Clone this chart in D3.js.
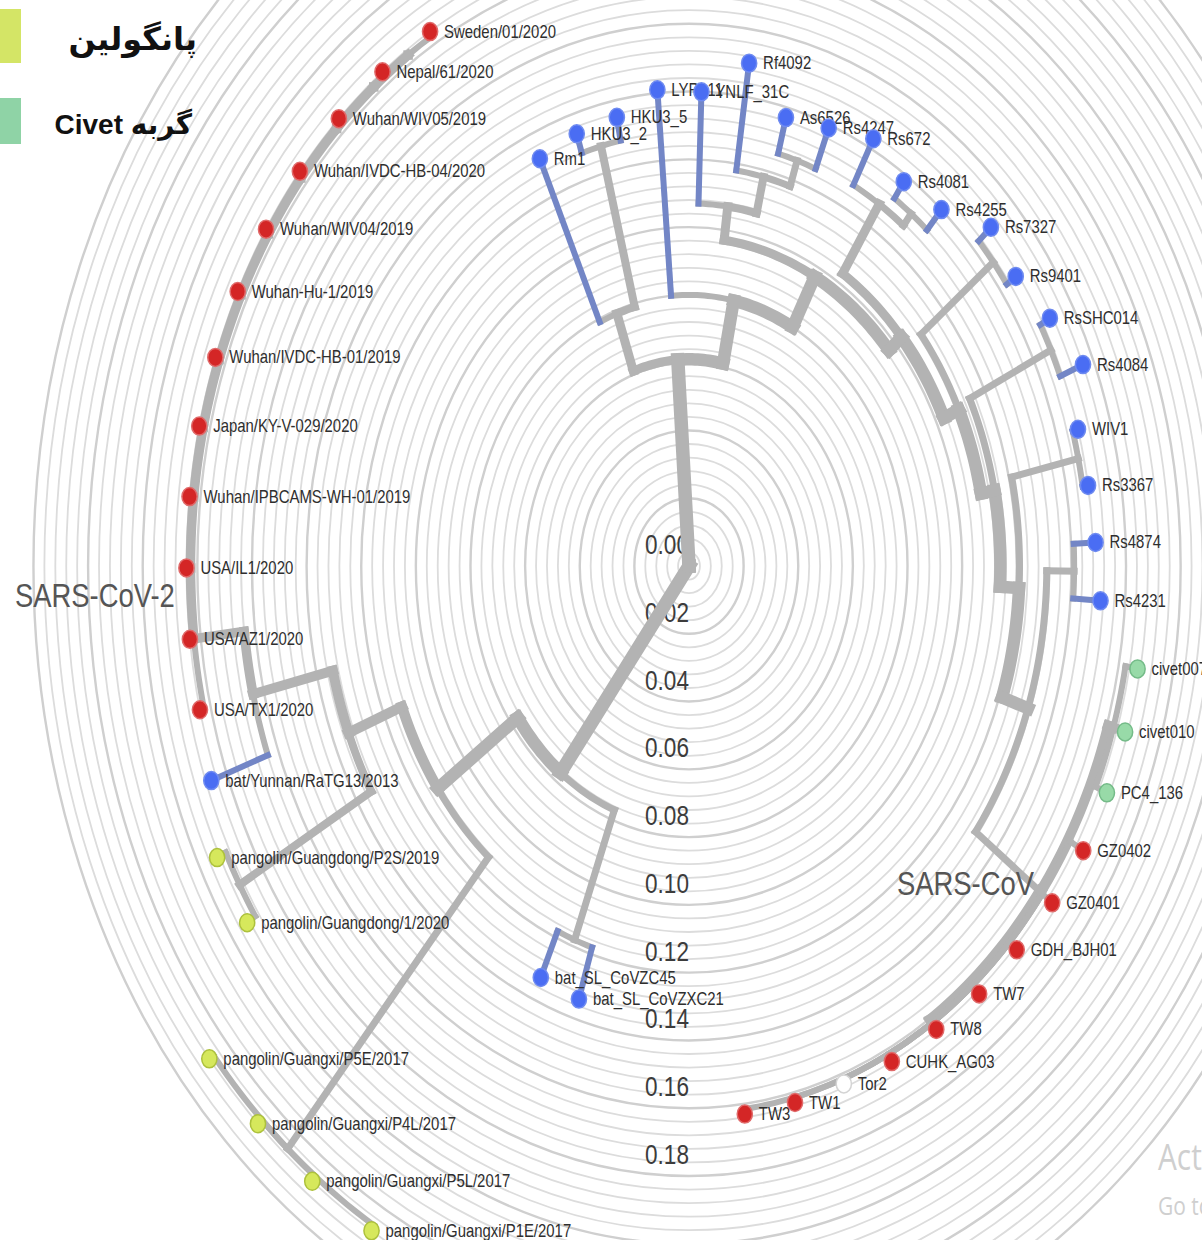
<!DOCTYPE html>
<html>
<head>
<meta charset="utf-8">
<script src="https://cdn.jsdelivr.net/npm/d3@7"></script>
<style>
  body { margin: 0; background: #fff; }
  svg { display: block; }
</style>
</head>
<body>
<script>
// Radial tree of SARS-related coronaviruses

// tips, clockwise starting from bat_SL_CoVZXC21
const tipNames = [
  "bat_SL_CoVZXC21", "bat_SL_CoVZC45",
  "pangolin/Guangxi/P1E/2017", "pangolin/Guangxi/P5L/2017", "pangolin/Guangxi/P4L/2017", "pangolin/Guangxi/P5E/2017",
  "pangolin/Guangdong/1/2020", "pangolin/Guangdong/P2S/2019",
  "bat/Yunnan/RaTG13/2013",
  "USA/TX1/2020", "USA/AZ1/2020", "USA/IL1/2020", "Wuhan/IPBCAMS-WH-01/2019", "Japan/KY-V-029/2020",
  "Wuhan/IVDC-HB-01/2019", "Wuhan-Hu-1/2019", "Wuhan/WIV04/2019", "Wuhan/IVDC-HB-04/2020",
  "Wuhan/WIV05/2019", "Nepal/61/2020", "Sweden/01/2020",
  "Rm1", "HKU3_2", "HKU3_5", "LYRa11", "YNLF_31C", "Rf4092", "As6526", "Rs4247", "Rs672",
  "Rs4081", "Rs4255", "Rs7327", "Rs9401", "RsSHC014", "Rs4084", "WIV1", "Rs3367", "Rs4874", "Rs4231",
  "civet007", "civet010", "PC4_136",
  "GZ0402", "GZ0401", "GDH_BJH01", "TW7", "TW8", "CUHK_AG03", "Tor2", "TW1", "TW3"
];
const tipHosts = [
  "bat", "bat",
  "pangolin", "pangolin", "pangolin", "pangolin", "pangolin", "pangolin",
  "bat",
  "human", "human", "human", "human", "human", "human", "human", "human", "human", "human", "human", "human",
  "bat", "bat", "bat", "bat", "bat", "bat", "bat", "bat", "bat",
  "bat", "bat", "bat", "bat", "bat", "bat", "bat", "bat", "bat", "bat",
  "civet", "civet", "civet",
  "human", "human", "human", "human", "human", "human", "other", "human", "human"
];
const tipParent = [
  "Z", "Z",
  "GX", "GX", "GX", "GX", "GD", "GD",
  "N1",
  "C1", "C2", "C3", "C4", "C5", "C6", "C7", "C8", "C9", "C10", "C11", "C11",
  "B1", "HK", "HK", "A2", "A4", "A5", "A6", "A6", "A8",
  "A8c", "A8c", "RP", "RP", "SR", "SR", "WR", "WR", "RR", "RR",
  "CV", "CV", "CV",
  "HU", "HU", "HU", "HU", "HU", "HU", "HU", "HU", "HU"
];
const tipDist = [
  0.134, 0.133,
  0.228, 0.228, 0.228, 0.228, 0.193, 0.193,
  0.186,
  0.184, 0.184, 0.184, 0.184, 0.184, 0.184, 0.184, 0.184, 0.184, 0.184, 0.184, 0.184,
  0.132, 0.134, 0.135, 0.141, 0.140, 0.150, 0.137, 0.139, 0.143,
  0.138, 0.140, 0.149, 0.147, 0.151, 0.156, 0.148, 0.148, 0.149, 0.151,
  0.167, 0.167, 0.167,
  0.167, 0.166, 0.165, 0.165, 0.164, 0.164, 0.163, 0.163, 0.163
];

// internal nodes
const nodeIds = [
  "root", "L1", "Z", "N3", "GX", "N2", "GD", "N1",
  "C1", "C2", "C3", "C4", "C5", "C6", "C7", "C8", "C9", "C10", "C11",
  "R1", "B1", "HK", "A2", "A3", "A4", "A5", "A6", "A7", "A8", "A8c",
  "S1", "RP", "S2", "SR", "S3", "WR", "P1", "RR", "SC", "CV", "HU"
];
const nodeParent = [
  null, "root", "L1", "L1", "N3", "N3", "N2", "N2",
  "N1", "C1", "C2", "C3", "C4", "C5", "C6", "C7", "C8", "C9", "C10",
  "root", "R1", "B1", "R1", "A2", "A3", "A4", "A5", "A3", "A7", "A8",
  "A7", "S1", "S1", "S2", "S2", "S3", "S3", "P1", "P1", "SC", "SC"
];
const nodeDist = [
  0, 0.077, 0.118, 0.113, 0.2262, 0.134, 0.1895, 0.164,
  0.1825, 0.1825, 0.1825, 0.1825, 0.1825, 0.1825, 0.1825, 0.1825, 0.1825, 0.1825, 0.1825,
  0.061, 0.079, 0.128, 0.080, 0.097, 0.107, 0.118, 0.126, 0.103, 0.1275, 0.132,
  0.109, 0.143, 0.114, 0.147, 0.121, 0.146, 0.131, 0.141, 0.1605, 0.1625, 0.1615
];
// branch support, shown as branch thickness
const nodeSupport = [
  100, 95, 30, 85, 30, 65, 40, 60,
  55, 55, 55, 55, 55, 55, 55, 55, 55, 55, 55,
  95, 50, 40, 85, 85, 50, 40, 30, 85, 50, 30,
  85, 30, 85, 30, 85, 30, 85, 30, 30, 60, 75
];

const scaleTicks = [0, 0.02, 0.04, 0.06, 0.08, 0.10, 0.12, 0.14, 0.16, 0.18];

const width = 1202, height = 1240;
const cx = 689, cy = 566;
const squeeze = 0.806;       // picture is narrower than tall
const startAngle = 197.5, endAngle = 532.8;

const svg = d3.select("body").append("svg")
    .attr("width", width)
    .attr("height", height);

const r = d3.scaleLinear().domain([0, 0.18]).range([0, 610]);
const strokeW = d3.scaleLinear().domain([0, 100]).range([4, 14]);

function project(angle, dist) {
    const a = angle * Math.PI / 180, R = r(dist);
    return [cx + squeeze * R * Math.sin(a), cy - R * Math.cos(a)];
}

// build tree
const rows = nodeIds.map((id, i) => ({id, parent: nodeParent[i], dist: nodeDist[i], support: nodeSupport[i]}))
    .concat(tipNames.map((id, i) => ({id, parent: tipParent[i], dist: tipDist[i], host: tipHosts[i], order: i})));

const root = d3.stratify().id(d => d.id).parentId(d => d.parent)(rows);
root.eachAfter(n => { n.order = n.children ? d3.min(n.children, c => c.order) : n.data.order; });
root.sort((a, b) => a.order - b.order);

const leaves = root.leaves();
const angleScale = d3.scaleLinear().domain([0, leaves.length - 1]).range([startAngle, endAngle]);
leaves.forEach((d, i) => { d.angle = angleScale(i); });
root.eachAfter(n => {
    if (n.children) n.angle = (n.children[0].angle + n.children[n.children.length - 1].angle) / 2;
});

// background rings
const rings = svg.append("g");
d3.range(1, 61).forEach(k => {
    const d = k * 0.004;
    rings.append("ellipse")
        .attr("cx", cx).attr("cy", cy)
        .attr("rx", squeeze * r(d)).attr("ry", r(d))
        .attr("fill", "none")
        .attr("stroke", k % 5 === 0 ? "#cfcfcf" : "#dcdcdc")
        .attr("stroke-width", k % 5 === 0 ? 2.4 : 1.8);
});

// scale labels
svg.append("g").selectAll("text")
    .data(scaleTicks)
    .join("text")
    .attr("transform", d => `translate(${cx - 22},${cy + r(d) - 12}) scale(${squeeze},1)`)
    .attr("text-anchor", "middle")
    .attr("font-family", "Liberation Sans, Arial, sans-serif")
    .attr("font-size", 28)
    .attr("fill", "#3c3c3c")
    .text(d => d3.format(".2f")(d));

// branches: arc along the parent's radius, then radial piece out to the node
const line = d3.line();
function arcPath(n) {
    const p = n.parent;
    const pts = [];
    const steps = Math.max(1, Math.ceil(Math.abs(n.angle - p.angle)));
    for (let k = 0; k <= steps; k++) {
        pts.push(project(p.angle + (n.angle - p.angle) * k / steps, p.data.dist));
    }
    return line(pts);
}
function radialPath(n) {
    return line([project(n.angle, n.parent.data.dist), project(n.angle, n.data.dist)]);
}
const linkWidth = n => n.children ? strokeW(n.data.support) : 6;

const links = root.descendants().filter(n => n.parent);
const linkG = svg.append("g")
    .attr("fill", "none")
    .attr("stroke-linecap", "square")
    .attr("stroke-linejoin", "miter");

linkG.selectAll("path.arc")
    .data(links)
    .join("path")
    .attr("class", "arc")
    .attr("d", arcPath)
    .attr("stroke", "#b3b3b3")
    .attr("stroke-width", linkWidth);

linkG.selectAll("path.radial")
    .data(links)
    .join("path")
    .attr("class", "radial")
    .attr("d", radialPath)
    .attr("stroke", n => !n.children && n.data.host === "bat" ? "#7386c6" : "#b3b3b3")
    .attr("stroke-width", linkWidth);

// tip labels
const labelG = svg.append("g");
labelG.selectAll("text")
    .data(leaves)
    .join("text")
    .attr("transform", d => {
        const [x, y] = project(d.angle, d.data.dist);
        return `translate(${x + 14},${y + 6}) scale(${squeeze},1)`;
    })
    .attr("font-family", "Liberation Sans, Arial, sans-serif")
    .attr("font-size", 18.5)
    .attr("fill", "#2e2e2e")
    .text(d => d.data.id);

// tip dots
const hostFill = {bat: "#4a6df3", human: "#d42626", pangolin: "#d6e85c", civet: "#98daa8", other: "#ffffff"};
const hostStroke = {bat: "#6f8bf0", human: "#e06a6a", pangolin: "#adc13c", civet: "#74bb88", other: "#d4d4d4"};

svg.append("g").selectAll("ellipse")
    .data(leaves)
    .join("ellipse")
    .attr("cx", d => project(d.angle, d.data.dist)[0])
    .attr("cy", d => project(d.angle, d.data.dist)[1])
    .attr("rx", 7.6)
    .attr("ry", 9)
    .attr("fill", d => hostFill[d.data.host])
    .attr("stroke", d => hostStroke[d.data.host])
    .attr("stroke-width", 1.5);

// clade labels
[["SARS-CoV-2", 15, 607], ["SARS-CoV", 897, 895]].forEach(([t, x, y]) => {
    svg.append("text")
        .attr("transform", `translate(${x},${y}) scale(${squeeze},1)`)
        .attr("font-family", "Liberation Sans, Arial, sans-serif")
        .attr("font-size", 34)
        .attr("fill", "#555")
        .text(t);
});

// legend
svg.append("rect").attr("x", 0).attr("y", 9).attr("width", 21).attr("height", 54).attr("fill", "#d4e566");
svg.append("rect").attr("x", 0).attr("y", 98).attr("width", 21).attr("height", 46).attr("fill", "#8fd3a6");

svg.append("text")
    .attr("x", 197).attr("y", 50)
    .attr("text-anchor", "end")
    .attr("font-family", "DejaVu Sans, sans-serif")
    .attr("font-weight", "bold")
    .attr("font-size", 32)
    .attr("fill", "#111")
    .text("پانگولین");

svg.append("text")
    .attr("x", 192).attr("y", 134)
    .attr("text-anchor", "end")
    .attr("font-family", "Liberation Sans, DejaVu Sans, sans-serif")
    .attr("font-weight", "bold")
    .attr("font-size", 28)
    .attr("fill", "#111")
    .text("Civet گربه");

// screen watermark
svg.append("text")
    .attr("transform", `translate(1158,1170) scale(${squeeze},1)`)
    .attr("font-family", "Open Sans, sans-serif")
    .attr("font-size", 37)
    .attr("fill", "#cfcfcf")
    .text("Activate Windows");
svg.append("text")
    .attr("transform", `translate(1158,1215) scale(${squeeze},1)`)
    .attr("font-family", "Open Sans, sans-serif")
    .attr("font-size", 26)
    .attr("fill", "#cfcfcf")
    .text("Go to Settings to activate Windows.");
</script>
</body>
</html>
